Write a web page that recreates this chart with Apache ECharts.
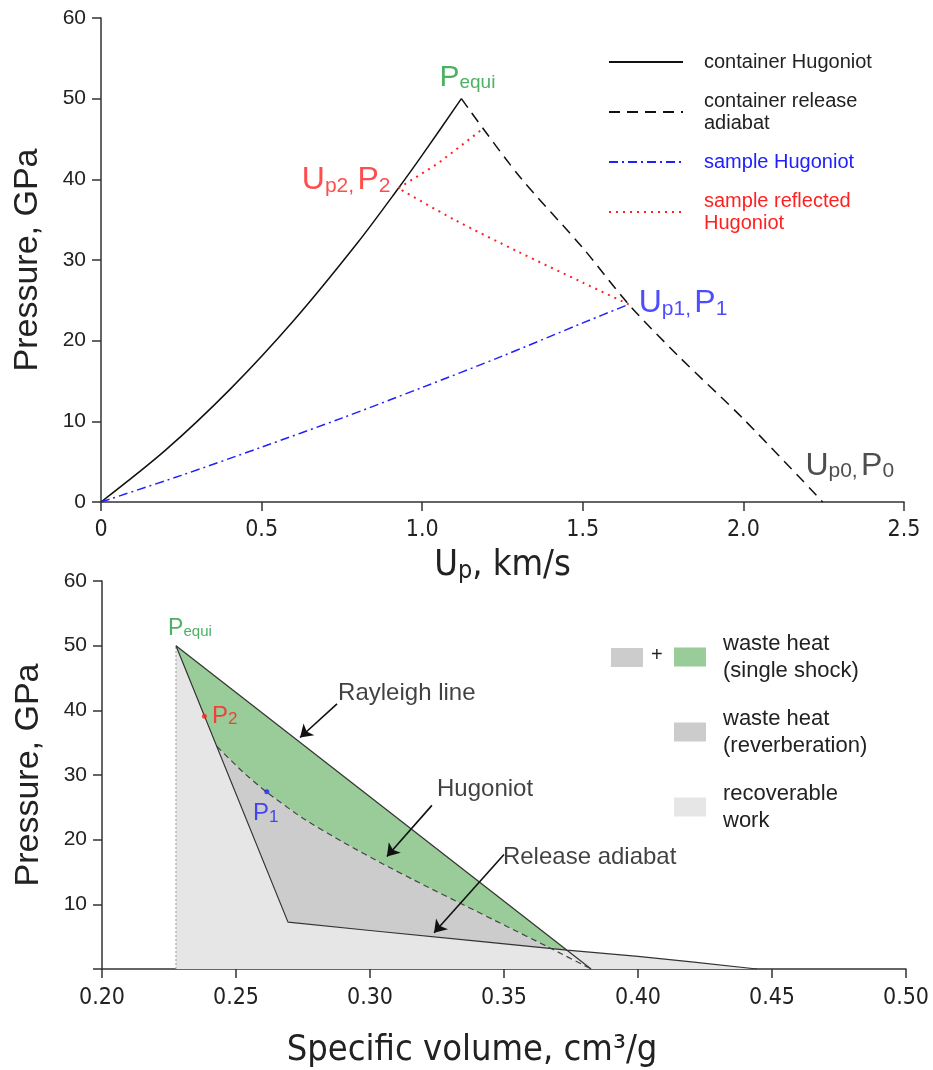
<!DOCTYPE html>
<html><head><meta charset="utf-8">
<script src="https://cdn.jsdelivr.net/npm/echarts@6/dist/echarts.min.js"></script>
<style>html,body{margin:0;padding:0;background:#fff}#c{width:933px;height:1070px}</style>
</head><body><div id="c"></div>
<script>
// ===== Top panel data: particle velocity Up (km/s) vs pressure P (GPa)
const contHugUp = [0, 0.2, 0.4, 0.6, 0.8, 0.926, 1.0, 1.122];
const contHugP  = [0, 6.4, 13.9, 22.5, 32.2, 38.9, 43.0, 50.0];
const contRelUp = [1.122, 1.3, 1.5, 1.643, 1.8, 2.0, 2.247];
const contRelP  = [50.0, 40.5, 31.5, 24.5, 18.0, 10.3, 0];
const sampHugUp = [0, 0.25, 0.5, 0.75, 1.0, 1.25, 1.5, 1.643];
const sampHugP  = [0, 3.3, 6.8, 10.4, 14.2, 18.1, 22.2, 24.5];
const reflAUp = [1.643, 1.5, 1.3, 1.1, 0.926];
const reflAP  = [24.5, 27.2, 31.0, 35.0, 38.9];
const reflBUp = [0.926, 1.05, 1.19];
const reflBP  = [38.9, 42.0, 46.3];
const topLabelPts = [[1.122, 50], [0.926, 38.9], [1.643, 24.5], [2.247, 0]];
const topLabelTexts = ['{b|P}{s|equi}', '{b|U}{s|p2,} {b|P}{s|2}', '{b|U}{s|p1,} {b|P}{s|1}', '{b|U}{s|p0,} {b|P}{s|0}'];
const topLegendNames = ['container Hugoniot', 'container release\nadiabat', 'sample Hugoniot', 'sample reflected\nHugoniot'];

// ===== Bottom panel data: specific volume V (cm3/g) vs pressure P (GPa)
const equiPt = [0.2276, 50];
const steepV = [0.2276, 0.2694];
const steepP = [50, 7.25];
const relV = [0.2694, 0.30, 0.34, 0.3735, 0.40, 0.42, 0.4444];
const relP = [7.25, 5.95, 4.3, 2.93, 1.95, 1.1, 0];
const hugV = [0.2429, 0.2525, 0.2616, 0.275, 0.29, 0.305, 0.32, 0.335, 0.35, 0.366, 0.3825];
const hugP = [34.4, 30.5, 27.3, 23.3, 19.6, 16.2, 13.0, 9.9, 6.8, 3.5, 0];
const rayV = [0.2276, 0.3825];
const rayP = [50, 0];
const crossHugRel = [0.3676, 3.16];
const crossRayRel = [0.3735, 2.92];
const p2Pt = [0.2382, 39.1];
const p1Pt = [0.2615, 27.4];
const arrowLines = [
  [[0.2877, 41.0], [0.2739, 35.8]],
  [[0.3231, 25.3], [0.3063, 17.4]],
  [[0.3500, 17.7], [0.3239, 5.6]]
];
const arrowTextPts = [[0.2881, 42.6], [0.3250, 27.8], [0.3496, 17.3]];
const arrowTexts = ['Rayleigh line', 'Hugoniot', 'Release adiabat'];
const bottomLegendNames = ['waste heat\n(single shock)', 'waste heat\n(reverberation)', 'recoverable\nwork'];

// ===== helpers
const pair = (xs, ys) => xs.map((x, i) => [x, ys[i]]);
const NARROW = "'Liberation Sans Narrow','Arial Narrow','DejaVu Sans Condensed','Liberation Sans',sans-serif";
const SANS = "'Liberation Sans',Arial,Helvetica,sans-serif";
const INK = '#333';
const GREEN_TXT = '#1f9e3c', RED = '#ff2020', BLUE = '#2020ff';
const FILL_GREEN = '#99cc99', FILL_DARK = '#cccccc', FILL_LIGHT = '#e6e6e6';

function axisStyle() {
  return {
    axisLine: {show: true, onZero: false, lineStyle: {color: INK, width: 1.5}},
    axisTick: {show: true, inside: false, length: 9, lineStyle: {color: INK, width: 1.5}},
    splitLine: {show: false}
  };
}
function polySeries(name, pts, color) {
  return {
    type: 'custom', name, xAxisIndex: 1, yAxisIndex: 1, coordinateSystem: 'cartesian2d',
    itemStyle: {color}, silent: true, z: 1, clip: true,
    data: pts, encode: {x: 0, y: 1},
    renderItem: (params, api) => {
      if (params.dataIndex !== 0) return null;
      return {type: 'polygon', shape: {points: pts.map(p => api.coord(p))}, style: {fill: color, stroke: null}};
    }
  };
}

// polygons built from the curves
const relPts = pair(relV, relP);
const hugPts = pair(hugV, hugP);
const lightPoly = [[equiPt[0], 0], equiPt, ...relPts];
const hugBeforeCross = hugPts.filter(p => p[0] < crossHugRel[0]);
const relBeforeCross = relPts.filter(p => p[0] < crossHugRel[0]);
const darkPoly = [...hugBeforeCross, crossHugRel, ...relBeforeCross.slice().reverse()];
const greenPoly = [equiPt, crossRayRel, crossHugRel, ...hugBeforeCross.slice().reverse()];

const chart = echarts.init(document.getElementById('c'));

const topLabelColors = [GREEN_TXT, RED, BLUE, '#222'];
const topLabelPos = [
  {position: 'top', distance: 6, offset: [6, 0]},
  {position: 'left', distance: 8, offset: [0, -8]},
  {position: 'right', distance: 10, offset: [0, -1]},
  {position: 'top', distance: 20, offset: [27, 0]}
];
const topLabelSize = [[30, 19], [32, 21], [32, 21], [32, 21]];

const option = {
  backgroundColor: '#fff',
  animation: false,
  grid: [
    {left: 101, top: 18, width: 803, height: 484},
    {left: 102, top: 581, width: 804, height: 389}
  ],
  xAxis: [
    Object.assign(axisStyle(), {
      type: 'value', gridIndex: 0, min: 0, max: 2.5, interval: 0.5,
      axisLabel: {fontFamily: NARROW, fontSize: 23, color: '#222', margin: 17,
        formatter: v => v === 0 ? '0' : v.toFixed(1)},
      name: '{b|U}{s|p}{b|, km/s}', nameLocation: 'middle', nameGap: 46,
      nameTextStyle: {fontFamily: NARROW, fontSize: 36, color: '#222',
        rich: {b: {fontFamily: NARROW, fontSize: 36, color: '#222', verticalAlign: 'bottom'},
               s: {fontFamily: NARROW, fontSize: 25, color: '#222', verticalAlign: 'bottom'}}}
    }),
    Object.assign(axisStyle(), {
      type: 'value', gridIndex: 1, min: 0.2, max: 0.5, interval: 0.05,
      axisLabel: {fontFamily: NARROW, fontSize: 23, color: '#222', margin: 18,
        formatter: v => v.toFixed(2)},
      name: 'Specific volume, cm³/g', nameLocation: 'middle', nameGap: 64,
      nameTextStyle: {fontFamily: NARROW, fontSize: 36, color: '#222', padding: [0, 64, 0, 0]}
    })
  ],
  yAxis: [
    Object.assign(axisStyle(), {
      type: 'value', gridIndex: 0, min: 0, max: 60, interval: 10,
      axisLabel: {fontFamily: SANS, fontSize: 21, color: '#222', margin: 15},
      name: 'Pressure, GPa', nameLocation: 'middle', nameGap: 56,
      nameTextStyle: {fontFamily: SANS, fontSize: 34, color: '#222'}
    }),
    Object.assign(axisStyle(), {
      type: 'value', gridIndex: 1, min: 0, max: 60, interval: 10,
      axisLabel: {fontFamily: SANS, fontSize: 21, color: '#222', margin: 15,
        formatter: v => v === 0 ? '' : String(v)},
      name: 'Pressure, GPa', nameLocation: 'middle', nameGap: 56,
      nameTextStyle: {fontFamily: SANS, fontSize: 34, color: '#222'}
    })
  ],
  legend: [
    {
      left: 608, top: 51, padding: 0, orient: 'vertical', itemWidth: 74, itemHeight: 12, itemGap: 17,
      selectedMode: false, itemStyle: {opacity: 0},
      textStyle: {fontFamily: SANS, fontSize: 20, lineHeight: 22, color: '#222', padding: [0, 0, 0, 16]},
      data: [
        {name: topLegendNames[0], textStyle: {color: '#222'}},
        {name: topLegendNames[1], textStyle: {color: '#222'}},
        {name: topLegendNames[2], textStyle: {color: BLUE}},
        {name: topLegendNames[3], textStyle: {color: RED}}
      ]
    },
    {
      left: 674, top: 630, padding: 0, orient: 'vertical', itemWidth: 32, itemHeight: 19, itemGap: 21,
      selectedMode: false, icon: 'rect',
      textStyle: {fontFamily: SANS, fontSize: 22, lineHeight: 27, color: '#222', padding: [0, 0, 0, 12]},
      data: bottomLegendNames
    }
  ],
  graphic: [
    {type: 'rect', left: 611, top: 648, shape: {width: 32, height: 19}, style: {fill: FILL_DARK}},
    {type: 'text', left: 651, top: 645, style: {text: '+', fontFamily: SANS, fontSize: 20, fill: '#222'}}
  ],
  series: [
    // ---- top panel
    {type: 'line', name: topLegendNames[0], xAxisIndex: 0, yAxisIndex: 0, symbol: 'none', smooth: 0.3,
      lineStyle: {color: '#111', width: 1.5, type: 'solid'}, itemStyle: {color: '#111'},
      data: pair(contHugUp, contHugP), z: 3},
    {type: 'line', name: topLegendNames[1], xAxisIndex: 0, yAxisIndex: 0, symbol: 'none', smooth: 0.3,
      lineStyle: {color: '#111', width: 1.5, type: [11, 7]}, itemStyle: {color: '#111'},
      data: pair(contRelUp, contRelP), z: 3},
    {type: 'line', name: topLegendNames[2], xAxisIndex: 0, yAxisIndex: 0, symbol: 'none', smooth: 0.3,
      lineStyle: {color: BLUE, width: 1.5, type: [9, 4, 2, 4]}, itemStyle: {color: BLUE},
      data: pair(sampHugUp, sampHugP), z: 3},
    {type: 'line', name: topLegendNames[3], xAxisIndex: 0, yAxisIndex: 0, symbol: 'none', smooth: 0.3,
      lineStyle: {color: RED, width: 2, type: [2, 5]}, itemStyle: {color: RED},
      data: pair(reflAUp, reflAP), z: 3},
    {type: 'line', name: topLegendNames[3], xAxisIndex: 0, yAxisIndex: 0, symbol: 'none',
      lineStyle: {color: RED, width: 2, type: [2, 5]}, itemStyle: {color: RED},
      data: pair(reflBUp, reflBP), z: 3},
    {type: 'scatter', name: '_topLabels', xAxisIndex: 0, yAxisIndex: 0, symbolSize: 0, silent: true, z: 5,
      data: topLabelPts.map((p, i) => ({
        value: p,
        label: Object.assign({
          show: true, formatter: topLabelTexts[i],
          rich: {
            b: {fontFamily: SANS, fontSize: topLabelSize[i][0], color: topLabelColors[i], verticalAlign: 'bottom', lineHeight: topLabelSize[i][0]},
            s: {fontFamily: SANS, fontSize: topLabelSize[i][1], color: topLabelColors[i], verticalAlign: 'bottom', lineHeight: topLabelSize[i][0]}
          }
        }, topLabelPos[i])
      }))
    },
    // ---- bottom panel fills
    polySeries(bottomLegendNames[2], lightPoly, FILL_LIGHT),
    polySeries(bottomLegendNames[1], darkPoly, FILL_DARK),
    polySeries(bottomLegendNames[0], greenPoly, FILL_GREEN),
    // ---- bottom panel lines
    {type: 'line', name: '_vert', xAxisIndex: 1, yAxisIndex: 1, symbol: 'none', z: 3,
      lineStyle: {color: '#999', width: 1, type: [2, 2]},
      data: [[equiPt[0], 0], equiPt]},
    {type: 'line', name: '_release', xAxisIndex: 1, yAxisIndex: 1, symbol: 'none', z: 3,
      lineStyle: {color: INK, width: 1.2},
      data: [...pair(steepV, steepP), ...relPts.slice(1)]},
    {type: 'line', name: '_rayleigh', xAxisIndex: 1, yAxisIndex: 1, symbol: 'none', z: 3,
      lineStyle: {color: INK, width: 1.2},
      data: pair(rayV, rayP)},
    {type: 'line', name: '_hugoniot', xAxisIndex: 1, yAxisIndex: 1, symbol: 'none', z: 3, smooth: 0.2,
      lineStyle: {color: '#444', width: 1.2, type: [6, 4]},
      data: hugPts},
    {type: 'scatter', name: '_p2', xAxisIndex: 1, yAxisIndex: 1, symbolSize: 5, z: 6,
      itemStyle: {color: RED},
      label: {show: true, position: 'right', distance: 5, formatter: '{b|P}{s|2}',
        rich: {b: {fontFamily: SANS, fontSize: 24, color: RED, verticalAlign: 'bottom', lineHeight: 24},
               s: {fontFamily: SANS, fontSize: 17, color: RED, verticalAlign: 'bottom', lineHeight: 24}}},
      data: [p2Pt]},
    {type: 'scatter', name: '_p1', xAxisIndex: 1, yAxisIndex: 1, symbolSize: 5, z: 6,
      itemStyle: {color: BLUE},
      label: {show: true, position: 'bottom', distance: 7, offset: [-1, 0], formatter: '{b|P}{s|1}',
        rich: {b: {fontFamily: SANS, fontSize: 24, color: BLUE, verticalAlign: 'bottom', lineHeight: 24},
               s: {fontFamily: SANS, fontSize: 17, color: BLUE, verticalAlign: 'bottom', lineHeight: 24}}},
      data: [p1Pt]},
    {type: 'scatter', name: '_equi', xAxisIndex: 1, yAxisIndex: 1, symbolSize: 0, z: 6,
      label: {show: true, position: 'top', distance: 6, offset: [14, 0], formatter: '{b|P}{s|equi}',
        rich: {b: {fontFamily: SANS, fontSize: 23, color: GREEN_TXT, verticalAlign: 'bottom', lineHeight: 23},
               s: {fontFamily: SANS, fontSize: 15, color: GREEN_TXT, verticalAlign: 'bottom', lineHeight: 23}}},
      data: [equiPt]},
    {type: 'scatter', name: '_arrowText', xAxisIndex: 1, yAxisIndex: 1, symbolSize: 0, z: 6, silent: true,
      label: {show: true, position: 'right', distance: 0, fontFamily: SANS, fontSize: 24, color: '#111',
        textBorderWidth: 0, formatter: p => arrowTexts[p.dataIndex]},
      data: arrowTextPts,
      markLine: {
        silent: true, symbol: ['none', 'arrow'], symbolSize: 12, animation: false,
        lineStyle: {color: '#111', width: 1.6, type: 'solid'}, itemStyle: {color: '#111'}, label: {show: false},
        data: arrowLines.map(l => [{coord: l[0], symbol: 'none'}, {coord: l[1], symbol: 'arrow', symbolSize: 12}])
      }
    }
  ]
};
chart.setOption(option);
</script>
</body></html>
